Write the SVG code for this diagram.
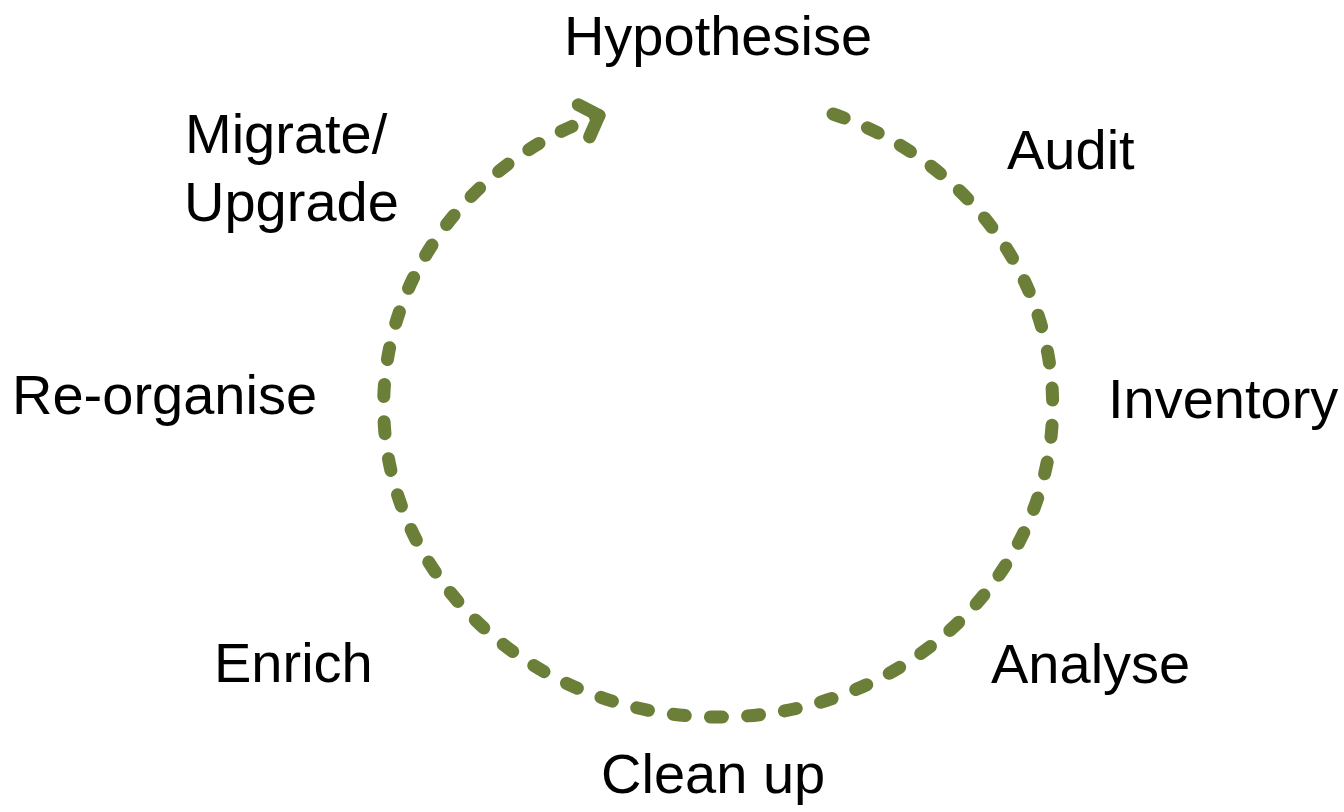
<svg xmlns="http://www.w3.org/2000/svg" width="1344" height="812" viewBox="0 0 1344 812">
  <style>
    .lbl { font-family: "Liberation Sans", Arial, sans-serif; font-size: 56px; fill: #000000; }
    .cycle { fill: none; stroke: #6b7f38; stroke-width: 13; stroke-linecap: round; stroke-dasharray: 12 25.2; }
    .head { fill: none; stroke: #6b7f38; stroke-width: 13; stroke-linecap: round; stroke-linejoin: round; }
  </style>
  <defs>
    <marker id="chev" markerUnits="userSpaceOnUse" markerWidth="40" markerHeight="40" viewBox="-30 -20 40 40" refX="0" refY="0" orient="auto" overflow="visible">
      <path class="head" d="M-16,-17 L0,0 L-16,17"/>
    </marker>
  </defs>
  <rect width="1344" height="812" fill="#ffffff"/>
  <g id="connectors">
    <path id="cycle-arc" class="cycle" d="M833,114 A334.5,311 0 1,1 599,115.5" marker-end="url(#chev)"/>
  </g>
  <g id="node-hypothesise"><text class="lbl" x="718" y="55" text-anchor="middle">Hypothesise</text></g>
  <g id="node-audit"><text class="lbl" x="1007" y="169">Audit</text></g>
  <g id="node-inventory"><text class="lbl" x="1108" y="418">Inventory</text></g>
  <g id="node-analyse"><text class="lbl" x="991" y="683">Analyse</text></g>
  <g id="node-cleanup"><text class="lbl" x="601" y="793">Clean up</text></g>
  <g id="node-enrich"><text class="lbl" x="214" y="682">Enrich</text></g>
  <g id="node-reorganise"><text class="lbl" x="12" y="414">Re-organise</text></g>
  <g id="node-migrate"><text class="lbl" x="185" y="153"><tspan x="185" y="153">Migrate/</tspan><tspan x="184" y="221">Upgrade</tspan></text></g>
</svg>
